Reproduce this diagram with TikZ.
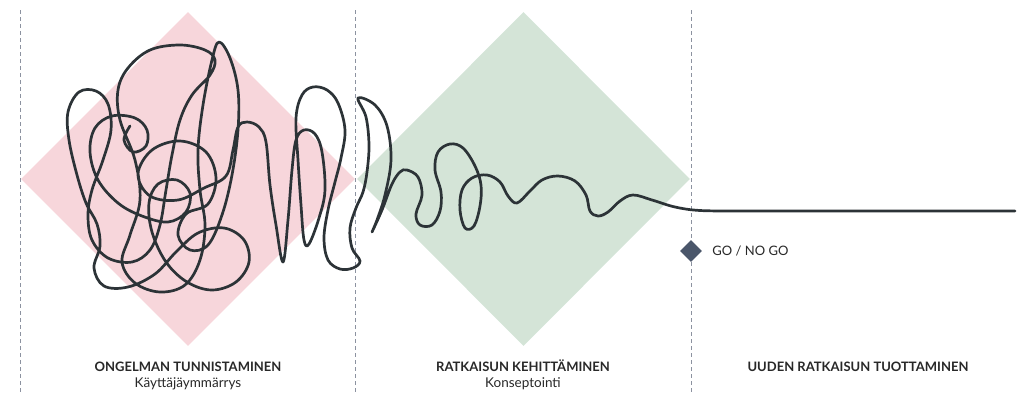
\documentclass[tikz,border=0pt]{standalone}
\usepackage{fontspec}
\setmainfont{Lato}
\usepackage{tikz}
\usetikzlibrary{positioning,shapes.geometric}

\definecolor{phasepink}{RGB}{247,214,219}
\definecolor{phasegreen}{RGB}{212,228,215}
\definecolor{inkline}{RGB}{44,51,55}
\definecolor{divgray}{RGB}{140,146,160}
\definecolor{gateblue}{RGB}{74,86,106}
\definecolor{labeltext}{RGB}{40,40,40}

\begin{document}
\begin{tikzpicture}[x=1pt, y=-1pt, every node/.style={text=labeltext, align=center, inner sep=0pt}]
\useasboundingbox (0,0) rectangle (1021,392);

% phase backgrounds
\node[diamond, fill=phasepink, minimum width=334pt, minimum height=334pt] (probarea) at (188,179) {};
\node[diamond, fill=phasegreen, minimum width=333pt, minimum height=334pt] (solarea) at (523.5,179) {};

% dividers
\foreach \xd in {20,355,691}
  \draw[divgray, line width=0.9pt, dash pattern=on 4pt off 3pt] (\xd,10) -- (\xd,392);

% the squiggle: tangle -> loops -> straight line
\draw[inkline, line width=2.7pt, line cap=round, line join=round]
  plot[smooth, tension=0.6] coordinates {
    (130,126) (124,140) (133,152) (146,146) (147,130) (135,118) (112,116) (95,128)
    (90,152) (98,180) (118,203) (142,216) (168,222) (186,212) (190,193) (177,180)
    (158,184) (149,203) (152,232) (166,262) (187,282) (212,290) (236,282) (249,262)
    (244,240) (224,228) (198,233) (176,252) (155,274) (128,287) (104,286) (94,268)
    (100,246) (97,224) (86,203) (77,175) (69,140) (68,112) (79,92) (96,91)
    (108,104) (111,130) (103,160) (92,190) (88,215) (92,240) (108,258) (132,262)
    (150,250) (160,225) (166,190) (172,155) (180,120) (192,95) (210,75) (215,60)
    (205,50) (180,45) (150,50) (128,68) (118,90) (120,120) (135,160) (140,200)
    (130,235) (122,262) (135,283) (160,292) (185,285) (200,260) (205,225) (200,190)
    (198,150) (203,105) (212,60) (219,42) (230,58) (238,90) (238,130) (232,175)
    (222,215) (208,245) (190,250) (178,235) (186,214) (208,204) (216,178) (206,152)
    (180,141) (152,150) (138,174) (150,196) (178,200) (204,188) (226,176)
    (233,150) (238,127) (247,122) (259,127) (266,142) (270,185) (276,225) (283,262)
    (288,220) (292,170) (296,140) (304,130) (315,134) (322,152) (325,190) (319,218)
    (309,244) (304,240) (301,205) (298,160) (296,118) (302,95) (313,87) (327,90)
    (338,103) (345,130) (341,158) (335,182) (328,210) (324,238) (328,260) (340,269)
    (353,268) (360,261) (352,248) (350,228) (356,208) (363,192) (367,172) (369,145)
    (366,117) (358,98) (375,105) (387,126) (391,160) (385,195) (377,220) (372,232)
    (382,210) (392,184) (400,172) (407,170) (418,177) (422,195) (416,214) (420,225)
    (432,225) (440,211) (441,192) (435,170) (438,152) (450,144) (463,148) (475,166)
    (481,185) (480,206) (474,226) (465,228) (460,210) (462,190) (472,178) (487,175)
    (500,182) (508,196) (517,203) (530,191) (542,180) (558,176) (575,181) (586,195)
    (590,211) (598,216) (608,212) (620,201) (633,195) (652,200) (675,207) (700,210.5)
    (740,211)}
  -- (1015,211);

% decision point
\node[diamond, fill=gateblue, minimum width=22pt, minimum height=22pt] (gate) at (691,251) {};
\node[right=10pt of gate, font=\fontsize{13}{15}\selectfont] (gatelabel) {GO / NO GO};

% phase labels
\node[anchor=base, font=\bfseries\fontsize{13}{15}\selectfont] (probtitle) at (188,371) {ONGELMAN TUNNISTAMINEN};
\node[anchor=base, font=\fontsize{13.5}{15}\selectfont] (probsub) at (188,387) {Käyttäjäymmärrys};
\node[anchor=base, font=\bfseries\fontsize{13}{15}\selectfont] (soltitle) at (523,371) {RATKAISUN KEHITTÄMINEN};
\node[anchor=base, font=\fontsize{13.5}{15}\selectfont] (solsub) at (523,387) {Konseptointi};
\node[anchor=base, font=\bfseries\fontsize{13}{15}\selectfont] (prodtitle) at (858,371) {UUDEN RATKAISUN TUOTTAMINEN};
\end{tikzpicture}
\end{document}
